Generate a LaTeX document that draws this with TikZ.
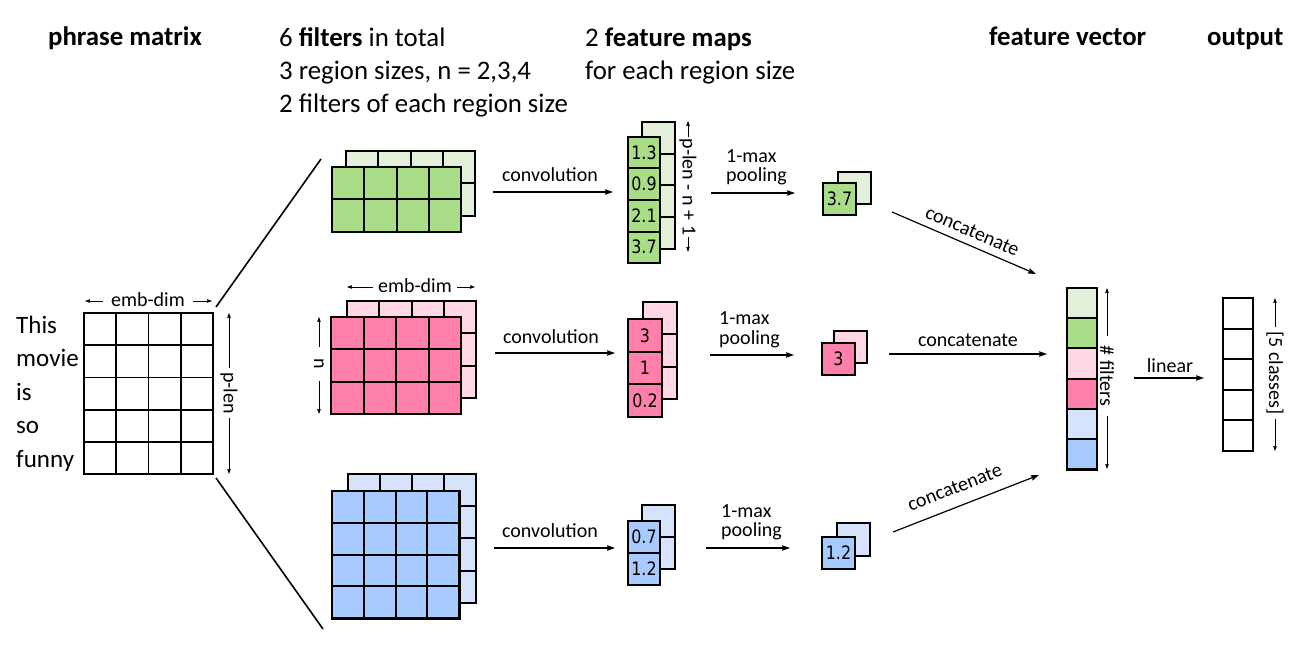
\documentclass[tikz,border=0pt]{standalone}
\usepackage{fontspec}
\setmainfont{Carlito}
\newfontfamily\numfont{DejaVu Sans}[FakeStretch=0.86]
\usetikzlibrary{arrows.meta}
\definecolor{gD}{RGB}{169,221,135}
\definecolor{gL}{RGB}{226,240,217}
\definecolor{pD}{RGB}{255,128,171}
\definecolor{pL}{RGB}{255,214,229}
\definecolor{bD}{RGB}{168,203,255}
\definecolor{bL}{RGB}{214,228,251}
\tikzset{
  gridline/.style={line width=2pt},
  outline/.style={line width=2.6pt},
  arr/.style={-{Stealth[length=8pt,width=5.5pt,inset=1pt]}, line width=1.2pt},
  dimarr/.style={-{Stealth[length=5pt,width=3.5pt,inset=0.5pt]}, line width=0.8pt},
  lbl/.style={font=\fontsize{20}{22}\selectfont, inner sep=0pt},
  head/.style={font=\fontsize{26.8}{30}\selectfont, inner sep=0pt, anchor=base west},
  word/.style={font=\fontsize{25}{30}\selectfont, inner sep=0pt, anchor=base west},
  num/.style={font=\numfont\fontsize{18.5}{18.5}\selectfont, inner sep=0pt},
  vlab/.style={font=\fontsize{20}{22}\selectfont, rotate=-90, fill=white, inner ysep=1pt},
}
% x, y (top-left), cols, rows, cell w, cell h, fill
\newcommand\cellgrid[7]{%
  \fill[#7] (#1,#2) rectangle ++({#3*#5},{#4*#6});
  \foreach \k in {1,...,#3} \draw[gridline] ({#1+\k*#5},#2) -- ++(0,{#4*#6});
  \foreach \k in {1,...,#4} \draw[gridline] (#1,{#2+\k*#6}) -- ++({#3*#5},0);
  \draw[outline] (#1,#2) rectangle ++({#3*#5},{#4*#6});
}
\begin{document}
\begin{tikzpicture}[x=1pt,y=-1pt]
\useasboundingbox (0,0) rectangle (1306,655);
\fill[white] (0,0) rectangle (1306,655);

% ---------- headers ----------
\node[head] (hphrase) at (48,46) {\bfseries phrase matrix};
\node[head] (hfilt1) at (279,47) {6 \textbf{filters} in total};
\node[head] (hfilt2) at (279,80) {3 region sizes, n = 2,3,4};
\node[head] (hfilt3) at (279,113) {2 filters of each region size};
\node[head] (hmap1) at (585,47) {2 \textbf{feature maps}};
\node[head] (hmap2) at (585,80) {for each region size};
\node[head] (hvec) at (989,46) {\bfseries feature vector};
\node[head] (hout) at (1207,46) {\bfseries output};

% ---------- phrase matrix ----------
\begin{scope}[gridline/.style={line width=1.8pt}, outline/.style={line width=2pt}]
\cellgrid{84}{313}{4}{5}{32.25}{32.2}{white}
\end{scope}
\coordinate (mTR) at (216,307);
\coordinate (mBR) at (216,478);
\node[word] (w1) at (16,333) {This};
\node[word] (w2) at (16,366) {movie};
\node[word] (w3) at (16,400) {is};
\node[word] (w4) at (16,433) {so};
\node[word] (w5) at (16,467) {funny};

\node[lbl, fill=white, inner xsep=8pt] (mdim) at (148,300) {emb-dim};
\coordinate (mdL) at (85,301);
\coordinate (mdR) at (212,301);
\draw[dimarr] (mdim.west |- mdL) -- (mdL);
\draw[dimarr] (mdim.east |- mdR) -- (mdR);

\node[vlab, inner xsep=4pt] (plen) at (229,393) {p-len};
\coordinate (plT) at (229,313);
\coordinate (plB) at (229,474);
\draw[dimarr] (plen.west) -- (plT);
\draw[dimarr] (plen.east) -- (plB);

% lines to filters
\coordinate (fT) at (321,159);
\coordinate (fB) at (323,629);
\draw[line width=1.6pt] (mTR) -- (fT);
\draw[line width=1.6pt] (mBR) -- (fB);

% ---------- filters ----------
\cellgrid{346}{151}{4}{2}{32.25}{32.5}{gL}
\cellgrid{332}{167}{4}{2}{32.25}{32.5}{gD}

\cellgrid{347}{301}{4}{3}{32.25}{32.3}{pL}
\cellgrid{331}{317}{4}{3}{32.5}{32.3}{pD}

\cellgrid{348}{474}{4}{4}{32}{32.2}{bL}
\cellgrid{332}{491}{4}{4}{31.8}{31.8}{bD}

% pink filter dims
\node[lbl, fill=white, inner xsep=5pt] (pdim) at (415,286) {emb-dim};
\coordinate (pdL) at (347,287);
\coordinate (pdR) at (475,287);
\draw[dimarr] (pdim.west |- pdL) -- (pdL);
\draw[dimarr] (pdim.east |- pdR) -- (pdR);
\node[vlab, inner xsep=12pt] (nlab) at (319,364) {n};
\coordinate (nT) at (319,317);
\coordinate (nB) at (319,414);
\draw[dimarr] (nlab.west) -- (nT);
\draw[dimarr] (nlab.east) -- (nB);

% ---------- convolution arrows ----------
\coordinate (c1a) at (493,192); \coordinate (c1b) at (613,192);
\coordinate (c2a) at (495,353); \coordinate (c2b) at (615,353);
\coordinate (c3a) at (494,548); \coordinate (c3b) at (615,548);
\draw[arr] (c1a) -- (c1b);
\draw[arr] (c2a) -- (c2b);
\draw[arr] (c3a) -- (c3b);
\node[lbl, anchor=base] (cl1) at (550,182) {convolution};
\node[lbl, anchor=base] (cl2) at (551,343) {convolution};
\node[lbl, anchor=base] (cl3) at (550,537) {convolution};

% ---------- feature maps ----------
\cellgrid{642}{122}{1}{4}{33}{31.75}{gL}
\cellgrid{628}{137}{1}{4}{32}{31.5}{gD}
\node[num] (g1) at (644,152.75) {1.3};
\node[num] (g2) at (644,184.25) {0.9};
\node[num] (g3) at (644,215.75) {2.1};
\node[num] (g4) at (644,247.25) {3.7};

\node[vlab, inner xsep=1.5pt] (plen2) at (688,187) {p-len - n + 1};
\coordinate (pl2T) at (688,121);
\coordinate (pl2B) at (688,252);
\draw[dimarr] (plen2.west) -- (pl2T);
\draw[dimarr] (plen2.east) -- (pl2B);

\cellgrid{643}{302}{1}{3}{34}{32.3}{pL}
\cellgrid{628}{319}{1}{3}{34}{32.7}{pD}
\node[num] (p1) at (645,335.3) {3};
\node[num] (p2) at (645,368) {1};
\node[num] (p3) at (645,400.7) {0.2};

\cellgrid{642}{505}{1}{2}{33}{32}{bL}
\cellgrid{628}{521}{1}{2}{32}{32}{bD}
\node[num] (b1) at (644,537) {0.7};
\node[num] (b2) at (644,569) {1.2};

% ---------- pooling arrows ----------
\coordinate (p1a) at (711,193); \coordinate (p1b) at (795,193);
\coordinate (p2a) at (710,355); \coordinate (p2b) at (794,355);
\coordinate (p3a) at (706,548); \coordinate (p3b) at (790,548);
\draw[arr] (p1a) -- (p1b);
\draw[arr] (p2a) -- (p2b);
\draw[arr] (p3a) -- (p3b);
\node[lbl, anchor=base west] (pm1) at (726,163) {1-max};
\node[lbl, anchor=base west] (pp1) at (726,182) {pooling};
\node[lbl, anchor=base west] (pm2) at (719,324) {1-max};
\node[lbl, anchor=base west] (pp2) at (719,344) {pooling};
\node[lbl, anchor=base west] (pm3) at (721,517) {1-max};
\node[lbl, anchor=base west] (pp3) at (721,536) {pooling};

% ---------- pooled ----------
\cellgrid{838}{172}{1}{1}{33}{32}{gL}
\cellgrid{823}{183}{1}{1}{33}{32}{gD}
\node[num] (pg) at (839.5,199) {3.7};
\cellgrid{834}{331}{1}{1}{33}{32}{pL}
\cellgrid{822}{343}{1}{1}{33}{32}{pD}
\node[num] (pk) at (838.5,359) {3};
\cellgrid{837}{523}{1}{1}{33}{33}{bL}
\cellgrid{822}{537}{1}{1}{33}{32}{bD}
\node[num] (pb) at (838.5,553) {1.2};

% ---------- concatenate ----------
\coordinate (k1a) at (892,212); \coordinate (k1b) at (1036,274);
\coordinate (k2a) at (889,354); \coordinate (k2b) at (1047,354);
\coordinate (k3a) at (893,532); \coordinate (k3b) at (1039,475);
\draw[arr] (k1a) -- node[lbl, sloped, above=7pt, pos=0.52] (kl1) {concatenate} (k1b);
\draw[arr] (k2a) -- (k2b);
\node[lbl, anchor=base] (kl2) at (968,346) {concatenate};
\draw[arr] (k3a) -- node[lbl, sloped, above=12pt, pos=0.47] (kl3) {concatenate} (k3b);

% ---------- feature vector ----------
\foreach \c [count=\i from 0] in {gL,gD,pL,pD,bL,bD}
  \fill[\c] (1067,{288+\i*30.2}) rectangle ++(30,30.2);
\foreach \i in {1,...,5}
  \draw[gridline] (1067,{288+\i*30.2}) -- ++(30,0);
\draw[outline] (1067,288) rectangle ++(30,181.2);

\node[vlab, inner xsep=10pt] (nf) at (1107,376) {\# filters};
\coordinate (nfT) at (1107,288);
\coordinate (nfB) at (1107,469);
\draw[dimarr] (nf.west) -- (nfT);
\draw[dimarr] (nf.east) -- (nfB);

% ---------- linear ----------
\coordinate (la) at (1134,378); \coordinate (lb) at (1204,378);
\draw[arr] (la) -- (lb);
\node[lbl, anchor=base] (lin) at (1170,372) {linear};

% ---------- output ----------
\cellgrid{1223}{298}{1}{5}{30}{30.6}{white}
\node[vlab, inner xsep=4pt] (cls) at (1275,373) {[5 classes]};
\coordinate (clT) at (1275,298);
\coordinate (clB) at (1275,451);
\draw[dimarr] (cls.west) -- (clT);
\draw[dimarr] (cls.east) -- (clB);
\end{tikzpicture}
\end{document}
